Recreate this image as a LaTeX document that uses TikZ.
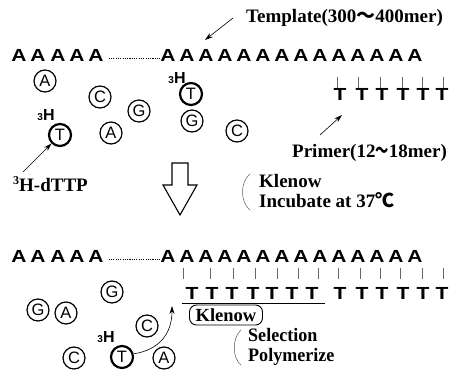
\documentclass[tikz,border=0pt]{standalone}
\usepackage{fontspec}
\usepackage{graphicx}
\setmainfont{Liberation Serif}
\setsansfont{Liberation Sans}
\newfontfamily\cjk{Noto Sans CJK SC}
\usetikzlibrary{arrows.meta}
\newcommand\cond[1]{\scalebox{0.95}[1]{#1}}
\newcommand\wide[1]{\scalebox{1.2}[1]{#1}}
\begin{document}
\begin{tikzpicture}[x=1pt,y=-1pt,
  seq/.style={font=\fontsize{17.5}{17.5}\selectfont\sffamily\bfseries, inner sep=0pt},
  nuc/.style={circle, draw, line width=1.2pt, minimum size=22pt, inner sep=0pt,
              font=\fontsize{16.5}{16.5}\selectfont\sffamily},
  hot/.style={nuc, line width=2.2pt, minimum size=22pt},
  tritium/.style={inner sep=0pt, font=\sffamily\bfseries},
  lbl/.style={font=\fontsize{19}{19}\selectfont\bfseries, inner sep=0pt, anchor=base west},
  pair/.style={gray!80!black, line width=0.6pt},
  pointer/.style={-{Stealth[length=8pt,width=5pt]}, line width=0.6pt},
  dots/.style={line width=1.3pt, dash pattern=on 1.1pt off 1.2pt},
  paren/.style={line width=0.5pt, gray!70!black}
]
\useasboundingbox (0,0) rectangle (461,379);

% ---------- top template strand ----------
\foreach \x [count=\i] in {19,38,58,77,96}
  \node[seq] (ta\i) at (\x,55) {\wide{A}};
\foreach \x [count=\i] in {168,187,206,225,244,263,282,301,320,339,358,377,396,415}
  \node[seq] (tb\i) at (\x,55) {\wide{A}};
\draw[dots] ([shift={(5,-3)}]ta5.south east) -- ([shift={(0,-3)}]tb1.south west);

% primer
\foreach \x in {337,358,380,402,422,443}
  \draw[pair] (\x,77) -- (\x,88);
\foreach \x [count=\i] in {340,362,382,403,423,442}
  \node[seq] (tt\i) at (\x,94) {\wide{T}};

% labels top
\node[lbl] (tmpl) at (246,23) {Template(300{\cjk ～}400mer)};
\coordinate (tmplfrom) at (233,18);
\coordinate (tmplto) at (205,40);
\draw[pointer] (tmplfrom) -- (tmplto);

\node[lbl] (prim) at (292,158) {Primer(12\scalebox{0.7}[1]{\cjk ～}18mer)};
\coordinate (primfrom) at (320,135);
\coordinate (primto) at (342,115);
\draw[pointer] (primfrom) -- (primto);

% nucleotides top
\node[nuc] (n1) at (45,81) {A};
\node[nuc] (n2) at (100,97) {C};
\node[nuc] (n3) at (139,111) {G};
\node[hot] (n4) at (191,94) {T};
\node[tritium] (h4) at (177,78) {{\fontsize{10}{10}\selectfont 3}{\fontsize{16}{16}\selectfont H}};
\node[nuc] (n5) at (192,121) {G};
\node[nuc] (n6) at (237,131) {C};
\node[hot] (n7) at (60,135) {T};
\node[tritium] (h7) at (46,115) {{\fontsize{10}{10}\selectfont 3}{\fontsize{16}{16}\selectfont H}};
\node[nuc] (n8) at (111,133) {A};

\node[lbl] (dttp) at (13,192) {\raisebox{0.4em}{\fontsize{12}{12}\selectfont 3}H-dTTP};
\coordinate (dttpfrom) at (23,172);
\draw[pointer] (dttpfrom) -- (n7.225);

% big hollow arrow
\draw[line width=1.1pt, line join=miter] (172,163) -- (188,163) -- (188,185) -- (197,185)
  -- (180,215) -- (163,185) -- (172,185) -- cycle;

% conditions 1
\draw[paren] (250,174) .. controls (240,182) and (240,202) .. (250,210);
\node[lbl] (kl1) at (259,188) {Klenow};
\node[lbl] (inc) at (259,208) {Incubate at 37{\cjk ℃}};

% ---------- bottom ----------
\foreach \x [count=\i] in {19,38,58,77,96}
  \node[seq] (ba\i) at (\x,256) {\wide{A}};
\foreach \x [count=\i] in {168,187,206,225,244,263,282,301,320,339,358,377,396,415}
  \node[seq] (bb\i) at (\x,256) {\wide{A}};
\draw[dots] ([shift={(5,-3)}]ba5.south east) -- ([shift={(0,-3)}]bb1.south west);

\foreach \x in {183,210,233,255,277,298,318,338,360,380,400,422,443}
  \draw[pair] (\x,268) -- (\x,279);
\foreach \x [count=\i] in {192,212,232,253,272,292,312}
  \node[seq] (bt\i) at (\x,293) {\wide{T}};
\foreach \x [count=\i] in {340,362,382,403,423,442}
  \node[seq] (bp\i) at (\x,293) {\wide{T}};
\coordinate (ulA) at (182,303);
\coordinate (ulB) at (325,303);
\draw[line width=0.7pt] (ulA) -- (ulB);

\node[draw, rounded corners=7pt, line width=0.9pt, minimum width=73pt, minimum height=20pt,
      inner sep=0pt, font=\fontsize{18.5}{18.5}\selectfont\bfseries] (klbox) at (226,315) {Klenow};

% nucleotides bottom
\node[nuc] (m1) at (112,292) {G};
\node[nuc] (m2) at (38,310) {G};
\node[nuc] (m3) at (66,313) {A};
\node[nuc] (m4) at (147,326) {C};
\node[nuc] (m5) at (74,358) {C};
\node[hot] (m6) at (122,357) {T};
\node[tritium] (h6) at (106,337) {{\fontsize{10}{10}\selectfont 3}{\fontsize{16}{16}\selectfont H}};
\node[nuc] (m7) at (164,358) {A};

\coordinate (incorp) at (172,306);
\draw[pointer] (m6.15) .. controls (158,350) and (172,335) .. (incorp);

% conditions 2
\draw[paren] (241,330) .. controls (232,338) and (232,358) .. (241,365);
\node[lbl] (sel) at (248,342) {\cond{Selection}};
\node[lbl] (pol) at (248,362) {\cond{Polymerize}};
\end{tikzpicture}
\end{document}
